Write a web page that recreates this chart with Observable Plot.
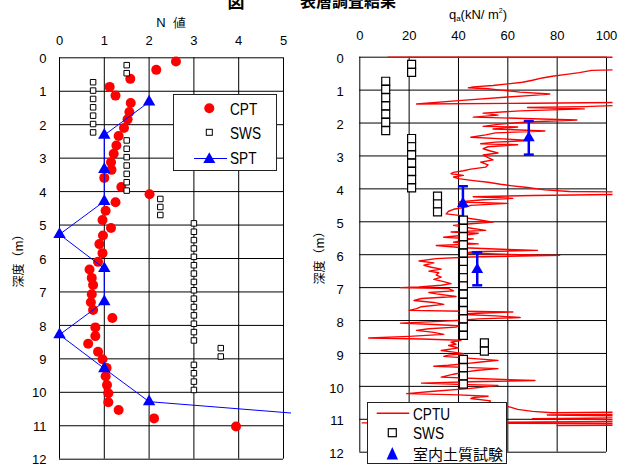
<!DOCTYPE html>
<html><head><meta charset="utf-8">
<script src="https://cdn.jsdelivr.net/npm/d3@7"></script>
<script src="https://cdn.jsdelivr.net/npm/@observablehq/plot@0.6"></script>
<style>
body{margin:0;background:#fff;}
#wrap{position:relative;width:629px;height:465px;overflow:hidden;background:#fff;font-family:Arial,"Liberation Sans",sans-serif;color:#000;}
#wrap svg{overflow:hidden;}
.abs{position:absolute;white-space:nowrap;line-height:1;}
.cjk{font-family:"Noto Sans CJK JP",sans-serif;}
.leg{position:absolute;background:#fff;border:1px solid #222;box-sizing:border-box;}
.leg span{position:absolute;white-space:nowrap;line-height:1;transform-origin:0 50%;transform:translateY(-50%) scaleX(0.85);font-family:Arial,"Liberation Sans",sans-serif;font-size:16px;}
.leg span.j{font-family:"Noto Sans CJK JP",sans-serif;font-size:15px;transform:translateY(-50%);}
</style></head><body><div id="wrap"></div>
<script>
// ---- data ----
const nTicks = [0, 1, 2, 3, 4, 5];
const qTicks = [0, 20, 40, 60, 80, 100];
const depthTicks = [0, 1, 2, 3, 4, 5, 6, 7, 8, 9, 10, 11, 12];

// CPT (converted N) - left chart
const cptDepth = [0.11,0.36,0.63,0.87,1.13,1.35,1.62,1.84,2.10,2.34,2.62,2.87,3.12,3.35,3.59,3.86,4.08,4.32,4.57,4.85,5.09,5.31,5.57,5.84,6.10,6.33,6.58,6.79,7.07,7.31,7.54,7.78,8.06,8.32,8.55,8.79,9.01,9.27,9.52,9.78,10.03,10.30,10.53,10.78,11.02];
const cptN     = [2.60,2.16,1.58,1.12,1.25,1.59,1.56,1.52,1.44,1.32,1.27,1.21,1.15,1.16,1.00,1.38,2.01,1.25,1.03,0.96,1.15,0.97,0.89,0.96,0.86,0.67,0.72,0.75,0.72,0.70,0.75,1.18,0.80,0.80,0.64,0.86,0.96,1.05,1.03,1.06,1.09,1.09,1.32,2.11,3.94];

// SPT
const sptDepth = [1.32, 2.31, 3.34, 4.29, 5.28, 6.30, 7.29, 8.28, 9.29, 10.28, 11.35];
const sptN     = [2, 1, 1, 1, 0, 1, 1, 0, 1, 2, 12];

// SWS
const swsDepth = [0.22,0.46,0.73,0.98,1.23,1.48,1.73,1.98,2.23,2.47,2.72,2.97,3.22,3.47,3.72,3.97,4.22,4.46,4.70,4.95,5.20,5.45,5.70,5.95,6.20,6.45,6.70,6.95,7.20,7.45,7.70,7.95,8.20,8.45,8.68,8.93,9.18,9.43,9.68,9.93];
const swsN     = [1.5,1.5,0.75,0.75,0.75,0.75,0.75,0.75,0.75,1.5,1.5,1.5,1.5,1.5,1.5,1.5,2.25,2.25,2.25,3,3,3,3,3,3,3,3,3,3,3,3,3,3,3,3.6,3.6,3,3,3,3];
const swsQ     = [21,21,10.5,10.5,10.5,10.5,10.5,10.5,10.5,21,21,21,21,21,21,21,31.5,31.5,31.5,42,42,42,42,42,42,42,42,42,42,42,42,42,42,42,50.5,50.5,42,42,42,42];

// CPTU qa profile
const cptuDepth = [0.00,0.00,0.36,0.40,0.47,0.53,0.58,0.63,0.70,0.76,0.81,0.86,0.90,0.93,0.96,1.00,1.06,1.12,1.16,1.21,1.32,1.42,1.40,1.37,1.44,1.50,1.53,1.57,1.63,1.70,1.76,1.82,1.87,1.91,1.97,2.04,2.10,2.12,2.18,2.24,2.30,2.36,2.43,2.48,2.53,2.58,2.63,2.66,2.72,2.78,2.85,2.91,2.97,3.05,3.12,3.19,3.27,3.34,3.40,3.45,3.50,3.54,3.59,3.64,3.69,3.75,3.80,3.86,3.90,3.96,4.03,4.08,4.10,4.16,4.20,4.24,4.29,4.33,4.40,4.44,4.50,4.55,4.62,4.68,4.76,4.82,4.86,4.94,5.01,5.06,5.11,5.18,5.26,5.31,5.35,5.40,5.47,5.52,5.55,5.62,5.67,5.72,5.79,5.84,5.87,5.91,5.95,6.00,6.02,6.07,6.12,6.19,6.25,6.32,6.38,6.44,6.50,6.55,6.62,6.68,6.75,6.82,6.88,6.93,6.98,7.00,7.03,7.10,7.15,7.19,7.27,7.33,7.39,7.45,7.51,7.58,7.64,7.69,7.72,7.74,7.78,7.81,7.86,7.91,7.95,7.99,8.04,8.08,8.12,8.16,8.20,8.25,8.30,8.36,8.42,8.48,8.53,8.56,8.60,8.66,8.72,8.76,8.83,8.91,8.96,9.01,9.05,9.09,9.15,9.21,9.26,9.31,9.36,9.39,9.43,9.46,9.51,9.56,9.63,9.72,9.77,9.82,9.86,9.90,9.94,9.97,10.02,10.07,10.15,10.22,10.26,10.30,10.34,10.37,10.44,10.52,10.58,10.63,10.70,10.76,10.80,10.78,10.85,10.87,10.91,10.95,10.98,11.02,11.06,11.09,11.11,11.13,11.18,11.19];
const cptuQ     = [11.5,115,115,94,89,83,78,74,70,66,60,54,46,44,52,57,65,77,70,60,40,23,70,115,115,91,68,91,65,50,56,46,70,88,68,56,50,64,54,75,55,51,45,58,69,55,49,64,52,50,53,56,50,52,54,49,52,51,45,42,38,37,42,38,40,46,52,57,61,68,75,85,115,115,70,46,62,50,40,60,45,43,38,36,35,42,41,48,54,45,38,44,51,37,48,43,34,46,43,38,48,31,42,60,72,46,43,65,81,45,31,24,30,26,29,33,28,32,31,33,30,34,37,33,24,16.5,36,38,28,31,39,25,22,30,34,25,23,20,42,62,48,40,55,65,48,41,28,16.5,30,40,39,28,23,30,34,20,3.6,25,41,37,39,36,40,33,38,42,36,34,45,56,49,43,36,30,45,56,48,43,38,33,50,71,45,25,40,56,50,44,30,19,40,52,46,45,53,52,57,61,64,70,78,115,115,76,115,115,70,115,115,58,1,115,115,80];

// 室内土質試験 (lab tests)
const labDepth  = [2.45, 4.45, 6.45];
const labQ      = [68.5, 41.8, 47.6];
const labTop    = [1.94, 3.92, 5.93];
const labBottom = [2.96, 4.95, 6.93];

// ---- tables built from arrays ----
const cptRows  = cptN.map((n, i) => ({n, d: cptDepth[i]}));
const sptRows  = sptN.map((n, i) => ({n, d: sptDepth[i]}));
const swsRows  = swsN.map((n, i) => ({n, q: swsQ[i], d: swsDepth[i]}));
const cptuRows = cptuQ.map((q, i) => ({q, d: cptuDepth[i]}));
const labRows  = labQ.map((q, i) => ({q, d: labDepth[i], top: labTop[i], bot: labBottom[i]}));

const RED = "#ff0000", BLUE = "#0000ff";
const font = "Arial, 'Liberation Sans', sans-serif";
const capSymbol = {draw(ctx, size) { const w = Math.sqrt(size / Math.PI); ctx.moveTo(-w, 0); ctx.lineTo(w, 0); }};

const wrap = document.getElementById("wrap");

// ---- left chart ----
const L = {w: 291, h: 465, ml: 59, mr: 8, mt: 57.3, mb: 6.3};
const left = Plot.plot({
  width: L.w, height: L.h,
  marginLeft: L.ml, marginRight: L.mr, marginTop: L.mt, marginBottom: L.mb,
  style: {fontFamily: font, fontSize: "13px", background: "transparent", overflow: "hidden"},
  x: {domain: [0, 5], axis: null},
  y: {domain: [0, 12], reverse: true, axis: null},
  marks: [
    Plot.ruleY(depthTicks, {stroke: "#000", strokeWidth: 1}),
    Plot.ruleX(nTicks, {stroke: "#000", strokeWidth: 1}),
    Plot.axisX(nTicks, {anchor: "top", tickSize: 0, tickPadding: 13, fontSize: 13, label: null, tickFormat: d => String(d)}),
    Plot.axisY(depthTicks, {anchor: "left", tickSize: 0, tickPadding: 13, dy: 1, fontSize: 13, label: null, tickFormat: d => String(d)}),
    Plot.dot(cptRows, {x: "n", y: "d", r: 5, fill: RED, stroke: "none"}),
    Plot.dot(swsRows, {x: "n", y: "d", symbol: "square", r: 3.1, fill: "#fff", stroke: "#000", strokeWidth: 1}),
    Plot.line(sptRows, {x: "n", y: "d", stroke: BLUE, strokeWidth: 1}),
    Plot.dot(sptRows, {x: "n", y: "d", symbol: "triangle", r: 4.6, fill: BLUE, stroke: "none"})
  ]
});
left.style.position = "absolute"; left.style.left = "0px"; left.style.top = "0px";
wrap.appendChild(left);

// ---- right chart ----
const R = {x0: 300, w: 329, h: 465, ml: 59.3, mr: 23, mt: 56.7, mb: 13.3};
const right = Plot.plot({
  width: R.w, height: R.h,
  marginLeft: R.ml, marginRight: R.mr, marginTop: R.mt, marginBottom: R.mb,
  style: {fontFamily: font, fontSize: "13px", background: "transparent", overflow: "visible"},
  x: {domain: [0, 100], axis: null},
  y: {domain: [0, 12], reverse: true, axis: null},
  marks: [
    Plot.ruleY(depthTicks, {stroke: "#000", strokeWidth: 1}),
    Plot.ruleX(qTicks, {stroke: "#000", strokeWidth: 1}),
    Plot.axisX(qTicks, {anchor: "top", tickSize: 0, tickPadding: 17.5, fontSize: 13, label: null, tickFormat: d => String(d)}),
    Plot.axisY(depthTicks, {anchor: "left", tickSize: 0, tickPadding: 16, dy: 2, fontSize: 13, label: null, tickFormat: d => String(d)}),
    Plot.line(cptuRows, {x: "q", y: "d", stroke: RED, strokeWidth: 1.4}),
    Plot.ruleX(labRows, {x: "q", y1: "top", y2: "bot", stroke: BLUE, strokeWidth: 2.5}),
    Plot.dot(labRows, {x: "q", y: "top", symbol: capSymbol, r: 5, fill: "none", stroke: BLUE, strokeWidth: 2.5}),
    Plot.dot(labRows, {x: "q", y: "bot", symbol: capSymbol, r: 5, fill: "none", stroke: BLUE, strokeWidth: 2.5}),
    Plot.dot(labRows, {x: "q", y: "d", symbol: "triangle", r: 4.4, fill: BLUE, stroke: "none"}),
    Plot.dot(swsRows, {x: "q", y: "d", symbol: "square", r: 4.5, fill: "#fff", stroke: "#000", strokeWidth: 1.2})
  ]
});
right.style.position = "absolute"; right.style.left = R.x0 + "px"; right.style.top = "0px";
// clip the CPTU trace a little beyond the frame (like the original chart area)
{
  const ns = "http://www.w3.org/2000/svg";
  const defs = document.createElementNS(ns, "defs");
  const cp = document.createElementNS(ns, "clipPath");
  cp.setAttribute("id", "cptuClip");
  const rect = document.createElementNS(ns, "rect");
  rect.setAttribute("x", R.ml); rect.setAttribute("y", R.mt - 3);
  rect.setAttribute("width", R.w - R.mr - R.ml + 6); rect.setAttribute("height", R.h - R.mb - R.mt + 3);
  cp.appendChild(rect); defs.appendChild(cp); right.insertBefore(defs, right.firstChild);
  const g = right.querySelector('g[aria-label="line"]');
  if (g) g.setAttribute("clip-path", "url(#cptuClip)");
}
wrap.appendChild(right);

// ---- texts ----
function addText(html, x, y, cls, extra) {
  const d = document.createElement("div");
  d.className = "abs " + (cls || "");
  d.innerHTML = html;
  d.style.left = x + "px"; d.style.top = y + "px";
  d.style.transform = "translate(-50%,-50%)" + (extra || "");
  wrap.appendChild(d);
  return d;
}
const t1 = addText("図", 236, 0, "cjk"); t1.style.fontSize = "17px"; t1.style.fontWeight = "bold";
const t2 = addText("表層調査結果", 348, 0, "cjk"); t2.style.fontSize = "16px"; t2.style.fontWeight = "bold";
const nl = addText("N&nbsp;&nbsp;値", 171, 22, ""); nl.style.fontSize = "13px";
const ql = addText('q<span style="font-size:8px;vertical-align:-2px">a</span>(kN/&nbsp;m<span style="font-size:7px;vertical-align:6px">2</span>)', 478, 15, ""); ql.style.fontSize = "13px";
const yl1 = addText("深度（m）", 18, 258, "cjk", " rotate(-90deg)"); yl1.style.fontSize = "12px";
const yl2 = addText("深度（m）", 319, 255, "cjk", " rotate(-90deg)"); yl2.style.fontSize = "12px";

// ---- legends ----
function legend(x, y, w, h, svgInner, texts) {
  const box = document.createElement("div");
  box.className = "leg";
  box.style.left = x + "px"; box.style.top = y + "px";
  box.style.width = w + "px"; box.style.height = h + "px";
  box.innerHTML = `<svg width="${w}" height="${h}" style="position:absolute;left:-1px;top:-1px;overflow:visible">${svgInner}</svg>` +
    texts.map(t => `<span class="${t.cls || ""}" style="left:${t.x}px;top:${t.y}px;">${t.s}</span>`).join("");
  wrap.appendChild(box);
}
legend(173, 94, 104, 77,
  `<circle cx="36.3" cy="14.3" r="5" fill="${RED}"/>
   <rect x="33.3" y="35.3" width="6" height="6" fill="#fff" stroke="#000" stroke-width="1"/>
   <line x1="21" x2="54" y1="64.5" y2="64.5" stroke="${BLUE}" stroke-width="1"/>
   <path d="M36.3,58.3 L42.3,69 L30.3,69 Z" fill="${BLUE}"/>`,
  [{s: "CPT", x: 56, y: 14.7}, {s: "SWS", x: 56, y: 38.7}, {s: "SPT", x: 56, y: 64.3}]);
legend(367, 402, 140, 62,
  `<line x1="9.7" x2="42.3" y1="11.3" y2="11.3" stroke="${RED}" stroke-width="1.4"/>
   <rect x="21.3" y="26.7" width="8" height="8" fill="#fff" stroke="#000" stroke-width="1.2"/>
   <path d="M25.3,45 L31,57.5 L19.6,57.5 Z" fill="${BLUE}"/>`,
  [{s: "CPTU", x: 45, y: 11.5}, {s: "SWS", x: 45, y: 30.7}, {s: "室内土質試験", x: 45, y: 50, cls: "j"}]);
</script></body></html>
